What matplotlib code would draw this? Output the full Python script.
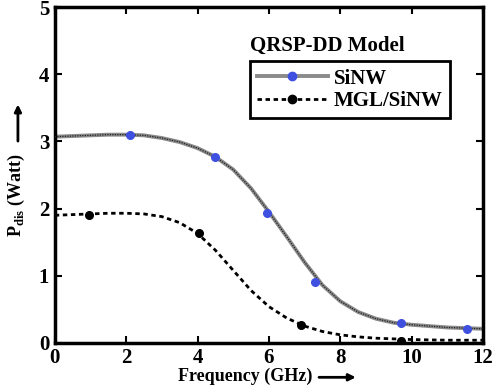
import matplotlib
matplotlib.use("Agg")
import matplotlib.pyplot as plt
from matplotlib.lines import Line2D

plt.rcParams['font.family'] = ['Liberation Serif', 'DejaVu Serif']
plt.rcParams['font.weight'] = 'bold'
plt.rcParams['mathtext.fontset'] = 'custom'
plt.rcParams['mathtext.rm'] = 'Liberation Serif'

# curves
freq_sinw = [0, 0.5, 1, 1.5, 2, 2.5, 3, 3.5, 4, 4.5, 5, 5.5, 6, 6.5, 7, 7.5, 8,
             8.5, 9, 9.5, 10, 10.5, 11, 11.5, 12]
p_sinw = [3.07, 3.08, 3.09, 3.10, 3.10, 3.09, 3.05, 2.99, 2.90, 2.77, 2.58, 2.30,
          1.95, 1.58, 1.20, 0.86, 0.62, 0.46, 0.36, 0.30, 0.27, 0.25, 0.23, 0.22, 0.21]
freq_mgl = [0, 0.5, 1, 1.5, 2, 2.5, 3, 3.5, 4, 4.5, 5, 5.5, 6, 6.5, 7, 7.5, 8,
            8.5, 9, 9.5, 10, 11, 12]
p_mgl = [1.90, 1.91, 1.92, 1.93, 1.93, 1.92, 1.88, 1.79, 1.63, 1.38, 1.08, 0.78,
         0.54, 0.37, 0.25, 0.17, 0.12, 0.09, 0.07, 0.06, 0.05, 0.04, 0.04]

# marker positions
mk_sinw_x = [2.1, 4.5, 5.95, 7.3, 9.7, 11.55]
mk_sinw_y = [3.09, 2.77, 1.93, 0.90, 0.29, 0.21]
mk_mgl_x = [0.95, 4.05, 6.9, 9.7]
mk_mgl_y = [1.91, 1.63, 0.26, 0.03]

fig = plt.figure(figsize=(4.98, 3.91), dpi=100)
ax = fig.add_axes([0.110, 0.123, 0.860, 0.859])

ax.plot(freq_sinw, p_sinw, color='#8a8a8a', lw=2.8, zorder=2)
ax.plot(freq_sinw, p_sinw, color='#222222', lw=0.9, linestyle=(0, (1, 1)), zorder=3)
ax.plot(mk_sinw_x, mk_sinw_y, 'o', color='#3f4fe0', ms=5.5, zorder=4)

ax.plot(freq_mgl, p_mgl, color='black', lw=2.0, linestyle=(0, (1.6, 1.3)), zorder=2)
ax.plot(mk_mgl_x, mk_mgl_y, 'o', color='black', ms=5.5, zorder=4)

ax.set_xlim(0, 12)
ax.set_ylim(0, 5)
ax.set_xticks(range(0, 13, 2))
ax.set_yticks(range(0, 6))
ax.tick_params(direction='in', length=5, width=1.5, top=True, right=True,
               labelsize=15, pad=4)
for lab in ax.get_xticklabels() + ax.get_yticklabels():
    lab.set_fontweight('bold')
for s in ax.spines.values():
    s.set_linewidth(2.5)

h1 = Line2D([], [], color='#8a8a8a', lw=2.8, marker='o', markerfacecolor='#3f4fe0',
            markeredgecolor='#3f4fe0', ms=6)
h2 = Line2D([], [], color='black', lw=2.0, linestyle=(0, (1.6, 1.3)), marker='o',
            markerfacecolor='black', markeredgecolor='black', ms=6)
leg = ax.legend([h1, h2], ['SiNW', 'MGL/SiNW'], loc='upper left',
                bbox_to_anchor=(0.455, 0.838), borderaxespad=0, numpoints=1,
                fancybox=False, framealpha=1, edgecolor='black', fontsize=15,
                handlelength=3.4, handletextpad=0.3, borderpad=0.35,
                labelspacing=0.1)
leg.get_frame().set_linewidth(2)
for t in leg.get_texts():
    t.set_fontweight('bold')

ax.text(0.455, 0.885, 'QRSP-DD Model', transform=ax.transAxes, fontsize=15,
        fontweight='bold', va='center', ha='left')

ax.set_xlabel('Frequency (GHz)', fontsize=13, fontweight='bold')
ax.xaxis.set_label_coords(0.444, -0.075)
ax.annotate('', xy=(0.72, 0.035), xytext=(0.635, 0.035), xycoords='figure fraction',
            arrowprops=dict(arrowstyle='-|>', color='black', lw=2, mutation_scale=10))

ax.set_ylabel(r'P$_{\mathregular{dis}}$ (Watt)', fontsize=13, fontweight='bold')
ax.yaxis.set_label_coords(-0.066, 0.44)
ax.annotate('', xy=(0.036, 0.74), xytext=(0.036, 0.632), xycoords='figure fraction',
            arrowprops=dict(arrowstyle='-|>', color='black', lw=2, mutation_scale=10))

fig.savefig('out.png', dpi=100)
